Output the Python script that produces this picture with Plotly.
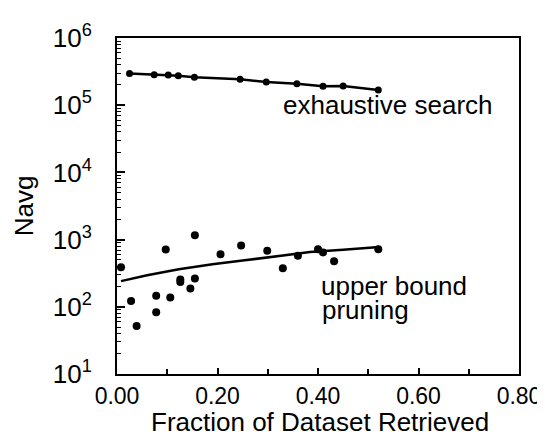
import plotly.graph_objects as go

# Exhaustive search (line with markers)
exh_x = [0.025, 0.074, 0.102, 0.122, 0.154, 0.245, 0.297, 0.358, 0.410, 0.450, 0.520]
exh_y = [297000, 285000, 282000, 275000, 260000, 243000, 222000, 208000, 191000, 193000, 169000]

# Upper bound pruning (scatter)
ub_x = [0.008, 0.028, 0.039, 0.078, 0.078, 0.097, 0.106, 0.126, 0.126, 0.146, 0.155, 0.155,
        0.206, 0.247, 0.299, 0.330, 0.360, 0.400, 0.410, 0.432, 0.520]
ub_y = [388, 122, 52, 146, 83, 714, 137, 255, 233, 187, 263, 1161,
        603, 818, 681, 375, 575, 721, 645, 475, 721]

# Fitted curve for upper bound pruning
fit_x = [0.008, 0.06, 0.123, 0.19, 0.254, 0.32, 0.384, 0.45, 0.522]
fit_y = [241, 295, 362, 430, 492, 570, 652, 705, 773]

x_ticks = [0.0, 0.2, 0.4, 0.6, 0.8]
y_tick_exp = [1, 2, 3, 4, 5, 6]

FONT = "Liberation Sans, Arial, Helvetica, sans-serif"

fig = go.Figure()
fig.add_trace(go.Scatter(x=fit_x, y=fit_y, mode="lines",
                         line=dict(color="black", width=2.5), showlegend=False))
fig.add_trace(go.Scatter(x=ub_x, y=ub_y, mode="markers",
                         marker=dict(color="black", size=8), showlegend=False))
fig.add_trace(go.Scatter(x=exh_x, y=exh_y, mode="lines+markers",
                         line=dict(color="black", width=2.5),
                         marker=dict(color="black", size=7, symbol="circle"),
                         showlegend=False))

L, R, T, B = 109, 516, 26, 366
W, H = 545, 436

def px(xp):
    return (xp - L) / (R - L)

def py(yp):
    return (B - yp) / (B - T)

annots = [
    ("exhaustive search", 275, 94, "left"),
    ("upper bound", 314, 277, "left"),
    ("pruning", 315, 301, "left"),
    ("Fraction of Dataset Retrieved", 315, 415, "center"),
]
for txt, xp, yp, xa in annots:
    fig.add_annotation(text=txt, xref="paper", yref="paper", x=px(xp), y=py(yp),
                       xanchor=xa, yanchor="middle", showarrow=False,
                       font=dict(family=FONT, size=26, color="black"))

minor_y = [m * 10 ** e for e in range(1, 6) for m in range(2, 10)]

fig.update_layout(
    width=W, height=H,
    margin=dict(l=L, r=W - R, t=T, b=H - B),
    paper_bgcolor="white", plot_bgcolor="white",
    font=dict(family=FONT, size=24, color="black"),
    xaxis=dict(
        range=[0, 0.8], tickmode="array", tickvals=x_ticks,
        ticktext=[f"{v:.2f}" for v in x_ticks],
        ticks="inside", ticklen=6, tickwidth=1.5, tickcolor="black",
        minor=dict(dtick=0.1, ticks="inside", ticklen=5, tickwidth=1.5, tickcolor="black"),
        showgrid=False, zeroline=False,
        showline=True, linecolor="black", linewidth=2, mirror=True,
        tickfont=dict(size=23),
    ),
    yaxis=dict(
        type="log", range=[1, 6], tickmode="array",
        tickvals=[10 ** e for e in y_tick_exp],
        ticktext=[f"10<sup>{e}</sup>" for e in y_tick_exp],
        ticks="inside", ticklen=8, tickwidth=1.5, tickcolor="black",
        minor=dict(tickmode="array", tickvals=minor_y, ticks="inside", ticklen=4,
                   tickwidth=1, tickcolor="black"),
        showgrid=False, zeroline=False,
        showline=True, linecolor="black", linewidth=2, mirror=True,
        ticklabelstandoff=18,
        title=dict(text="Navg", font=dict(size=26), standoff=12),
        tickfont=dict(size=26),
    ),
)

fig.write_html("out.html")
